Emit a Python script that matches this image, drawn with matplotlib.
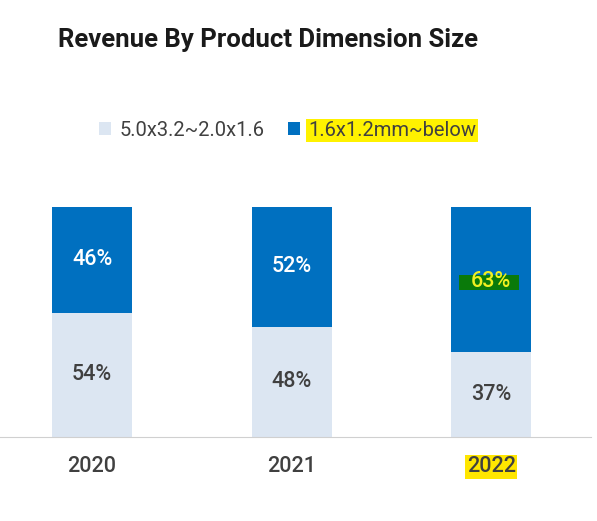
import matplotlib as mpl
import matplotlib.pyplot as plt
import matplotlib.patches as patches
import numpy as np

mpl.rcParams['font.family'] = 'Roboto'

# ---------------------------------------------------------------------------- #

years = ['2020', '2021', '2022']
large_size = [54, 48, 37]     # 5.0x3.2~2.0x1.6
small_size = [46, 52, 63]     # 1.6x1.2mm~below
series_names = ['5.0x3.2~2.0x1.6', '1.6x1.2mm~below']

light = '#DCE6F2'
dark = '#0070C0'
text_dark = '#404040'

# ---------------------------------------------------------------------------- #

fig = plt.figure(figsize=(5.97, 5.21), dpi=100)
ax = fig.add_axes([0.0, 0.1612, 0.99, 0.4415])

x = np.arange(len(years))
lo = np.array(large_size) / 100.0
hi = np.array(small_size) / 100.0

b1 = ax.bar(x, lo, width=0.4, color=light, label=series_names[0])
b2 = ax.bar(x, hi, width=0.4, bottom=lo, color=dark, label=series_names[1])

ax.set_xlim(-0.461, 2.500)
ax.set_ylim(0, 1)

# Segment labels.
for i in range(len(years)):
    ax.text(x[i], lo[i] / 2, '%d%%' % large_size[i], ha='center', va='center',
            fontsize=15.5, color=text_dark, fontweight='medium')
    if i == 2:
        # marker-pen highlight behind the 2022 label
        ymid = lo[i] + hi[i] / 2
        ax.add_patch(patches.Rectangle((x[i] - 0.16, ymid - 0.045), 0.30, 0.065,
                                       color='#0A7A0A', zorder=3, lw=0))
        ax.text(x[i], ymid - 0.01, '%d%%' % small_size[i], ha='center', va='center',
                fontsize=15.5, color='#F0F020', fontweight='medium', zorder=4)
    else:
        ax.text(x[i], lo[i] + hi[i] / 2, '%d%%' % small_size[i], ha='center',
                va='center', fontsize=15.5, color='white', fontweight='medium')

# Axes styling.
for s in ['top', 'right', 'left']:
    ax.spines[s].set_visible(False)
ax.spines['bottom'].set_color('#D0D0D0')
ax.set_yticks([])
ax.set_xticks(x)
ax.set_xticklabels(years, fontsize=15.5, color=text_dark, fontweight='medium')
ax.tick_params(axis='x', length=0, pad=14)
ax.get_xticklabels()[2].set_bbox(dict(boxstyle='square,pad=0.08', fc='#FFE600', ec='none'))

# Title.
fig.text(0.097, 0.923, 'Revenue By Product Dimension Size', fontsize=18.5,
         fontweight='bold', color='#1A1A1A', va='center')

# Legend.
leg = fig.legend(loc='center', bbox_to_anchor=(0.482, 0.75), ncol=2, frameon=False,
                 fontsize=14.5, handlelength=0.6, handleheight=0.6, handletextpad=0.4,
                 columnspacing=1.2)
for t in leg.get_texts():
    t.set_color(text_dark)
leg.get_texts()[1].set_bbox(dict(boxstyle='square,pad=0.1', fc='#FFF200', ec='none'))

plt.savefig('out.png', dpi=100)
